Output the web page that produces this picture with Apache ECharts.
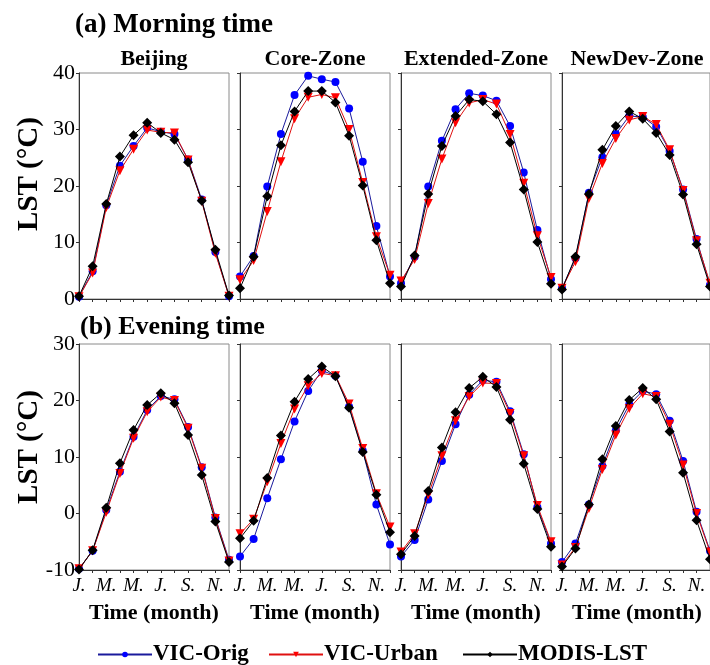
<!DOCTYPE html>
<html>
<head>
<meta charset="utf-8">
<script src="https://cdn.jsdelivr.net/npm/echarts@6/dist/echarts.min.js"></script>
<style>
  html, body { margin: 0; padding: 0; background: #fff; }
  #chart { width: 710px; height: 665px; }
</style>
</head>
<body>
<div id="chart"></div>
<script>
// months, labels shown every other month
const months = ['J.', 'F.', 'M.', 'A.', 'M.', 'J.', 'J.', 'A.', 'S.', 'O.', 'N.', 'D.'];
const zones = ['Beijing', 'Core-Zone', 'Extended-Zone', 'NewDev-Zone'];
const seriesNames = ['VIC-Orig', 'VIC-Urban', 'MODIS-LST'];

// (a) morning LST
const mBeijingOrig  = [0.4, 4.9, 16.6, 23.6, 27.1, 30.3, 29.6, 29.2, 24.7, 17.6, 8.3, 0.5];
const mBeijingUrban = [0.4, 4.6, 16.2, 22.7, 26.5, 29.9, 29.5, 29.4, 24.6, 17.3, 8.1, 0.5];
const mBeijingModis = [0.5, 5.8, 16.8, 25.2, 29.0, 31.2, 29.4, 28.2, 24.2, 17.4, 8.7, 0.6];

const mCoreOrig  = [4.0, 7.6, 19.9, 29.2, 36.1, 39.5, 38.9, 38.4, 33.7, 24.3, 12.9, 4.0];
const mCoreUrban = [3.4, 6.8, 15.5, 24.3, 31.9, 35.7, 36.2, 35.6, 30.0, 20.6, 11.0, 4.2];
const mCoreModis = [1.9, 7.5, 18.2, 27.2, 33.2, 36.8, 36.8, 34.8, 28.9, 20.1, 10.4, 2.8];

const mExtOrig  = [2.8, 7.5, 19.9, 28.0, 33.6, 36.4, 36.0, 35.1, 30.6, 22.4, 12.2, 3.5];
const mExtUrban = [3.2, 7.0, 16.9, 24.8, 31.2, 34.7, 35.3, 34.5, 29.1, 20.5, 11.2, 3.8];
const mExtModis = [2.2, 7.7, 18.6, 27.1, 32.4, 35.3, 35.0, 32.7, 27.7, 19.4, 10.1, 2.7];

const mNewOrig  = [1.9, 7.2, 18.8, 25.1, 29.2, 32.4, 32.2, 30.5, 26.2, 19.4, 10.6, 2.5];
const mNewUrban = [1.9, 6.6, 17.8, 24.0, 28.4, 31.7, 32.3, 30.9, 26.4, 19.2, 10.3, 2.8];
const mNewModis = [1.7, 7.5, 18.6, 26.4, 30.6, 33.2, 31.9, 29.4, 25.5, 18.5, 9.7, 2.2];

// (b) evening LST
const eBeijingOrig  = [-9.8, -6.6, 0.6, 7.4, 13.6, 18.3, 20.8, 20.2, 15.3, 8.2, -0.7, -8.2];
const eBeijingUrban = [-9.8, -6.6, 0.2, 7.1, 13.3, 18.0, 20.6, 20.0, 15.1, 8.0, -0.9, -8.4];
const eBeijingModis = [-9.9, -6.5, 1.0, 8.9, 14.8, 19.2, 21.3, 19.5, 13.9, 6.8, -1.4, -8.6];

const eCoreOrig  = [-7.6, -4.5, 2.7, 9.6, 16.3, 21.7, 25.3, 24.4, 18.9, 11.1, 1.6, -5.5];
const eCoreUrban = [-3.6, -1.0, 5.6, 12.4, 18.5, 22.6, 24.8, 24.4, 19.4, 11.5, 3.5, -2.4];
const eCoreModis = [-4.4, -1.3, 6.3, 13.8, 19.8, 23.8, 26.0, 24.3, 18.7, 10.9, 3.3, -3.3];

const eExtOrig  = [-7.6, -4.7, 2.5, 9.3, 15.8, 21.0, 23.6, 23.3, 18.1, 10.5, 1.1, -5.3];
const eExtUrban = [-6.8, -3.6, 3.3, 10.2, 16.4, 20.7, 23.1, 23.0, 17.7, 10.2, 1.4, -5.0];
const eExtModis = [-7.2, -4.0, 4.0, 11.7, 17.9, 22.2, 24.2, 22.4, 16.6, 8.8, 0.8, -5.9];

const eNewOrig  = [-8.6, -5.3, 1.6, 8.4, 14.7, 19.3, 21.7, 21.1, 16.4, 9.3, 0.3, -6.6];
const eNewUrban = [-9.1, -6.0, 0.9, 7.8, 13.9, 18.6, 21.2, 20.7, 15.8, 8.6, 0.0, -6.8];
const eNewModis = [-9.4, -6.2, 1.6, 9.6, 15.5, 20.1, 22.2, 20.2, 14.5, 7.2, -1.2, -8.1];

const morning = [
  [mBeijingOrig, mBeijingUrban, mBeijingModis],
  [mCoreOrig, mCoreUrban, mCoreModis],
  [mExtOrig, mExtUrban, mExtModis],
  [mNewOrig, mNewUrban, mNewModis]
];
const evening = [
  [eBeijingOrig, eBeijingUrban, eBeijingModis],
  [eCoreOrig, eCoreUrban, eCoreModis],
  [eExtOrig, eExtUrban, eExtModis],
  [eNewOrig, eNewUrban, eNewModis]
];

const serif = 'Liberation Serif';
const panelLeft = [79, 240, 401, 562];
const panelW = 150, panelH = 226;
const rowTop = [73, 344];
const rowRange = [[0, 40], [-10, 30]];

const styles = [
  { symbol: 'circle', size: 8, rotate: 0, color: '#0000ff', line: '#1a1a9c' },
  { symbol: 'triangle', size: 9, rotate: 180, color: '#ff0000', line: '#e01010' },
  { symbol: 'diamond', size: 10, rotate: 0, color: '#000000', line: '#000000' }
];

let grid = [], xAxis = [], yAxis = [], series = [], graphic = [];

[morning, evening].forEach((rowData, r) => {
  rowData.forEach((panel, c) => {
    const idx = grid.length;
    grid.push({
      left: panelLeft[c], top: rowTop[r], width: panelW, height: panelH,
      show: true, borderColor: '#8a8a8a', borderWidth: 1, backgroundColor: 'transparent'
    });
    xAxis.push({
      type: 'category', gridIndex: idx, data: months, boundaryGap: false,
      axisLine: { onZero: false, lineStyle: { color: '#333', width: 1 } },
      axisTick: { show: true, interval: 0, length: 3, lineStyle: { color: '#333' } },
      axisLabel: {
        show: r === 1, interval: 1, margin: 6, color: '#000',
        fontFamily: serif, fontStyle: 'italic', fontSize: 19
      },
      splitLine: { show: false }
    });
    yAxis.push({
      type: 'value', gridIndex: idx, min: rowRange[r][0], max: rowRange[r][1], interval: 10,
      axisLine: { show: true, onZero: false, lineStyle: { color: '#333', width: 1 } },
      axisTick: { show: true, length: 3, lineStyle: { color: '#333' } },
      axisLabel: { show: c === 0, margin: 4, color: '#000', fontFamily: serif, fontSize: 22 },
      splitLine: { show: false }
    });
    panel.forEach((vals, k) => {
      const s = styles[k];
      series.push({
        name: seriesNames[k], type: 'line', xAxisIndex: idx, yAxisIndex: idx,
        data: vals, symbol: s.symbol, symbolSize: s.size, symbolRotate: s.rotate,
        showAllSymbol: true, clip: false, z: 2 + k,
        itemStyle: { color: s.color },
        lineStyle: { color: s.line, width: 1 },
        emphasis: { disabled: true }, animation: false
      });
    });
    if (r === 0) {
      graphic.push({
        type: 'text', x: panelLeft[c] + panelW / 2, y: 59,
        style: { text: zones[c], fontFamily: serif, fontWeight: 'bold', fontSize: 22,
                 fill: '#000', align: 'center', verticalAlign: 'middle' }
      });
    } else {
      graphic.push({
        type: 'text', x: panelLeft[c] + panelW / 2, y: 613,
        style: { text: 'Time (month)', fontFamily: serif, fontWeight: 'bold', fontSize: 22,
                 fill: '#000', align: 'center', verticalAlign: 'middle' }
      });
    }
  });
});

graphic.push(
  { type: 'text', x: 75, y: 25,
    style: { text: '(a) Morning time', fontFamily: serif, fontWeight: 'bold', fontSize: 27,
             fill: '#000', align: 'left', verticalAlign: 'middle' } },
  { type: 'text', x: 80, y: 327,
    style: { text: '(b) Evening time', fontFamily: serif, fontWeight: 'bold', fontSize: 26,
             fill: '#000', align: 'left', verticalAlign: 'middle' } },
  { type: 'text', x: 30, y: 174, rotation: Math.PI / 2,
    style: { text: 'LST (°C)', fontFamily: serif, fontWeight: 'bold', fontSize: 29,
             fill: '#000', align: 'center', verticalAlign: 'middle' } },
  { type: 'text', x: 30, y: 447, rotation: Math.PI / 2,
    style: { text: 'LST (°C)', fontFamily: serif, fontWeight: 'bold', fontSize: 29,
             fill: '#000', align: 'center', verticalAlign: 'middle' } }
);

const legendLeft = [97, 268, 462];
const legend = seriesNames.map((n, k) => ({
  data: [n], left: legendLeft[k], top: 643, selectedMode: false,
  itemWidth: 54, itemHeight: 7, itemGap: 0, padding: 0,
  lineStyle: { width: 2 },
  textStyle: { fontFamily: serif, fontWeight: 'bold', fontSize: 23, color: '#000', padding: [0, 0, 0, -4] }
}));

const chart = echarts.init(document.getElementById('chart'));
chart.setOption({
  backgroundColor: '#fff',
  animation: false,
  grid, xAxis, yAxis, series, legend, graphic
});
</script>
</body>
</html>
